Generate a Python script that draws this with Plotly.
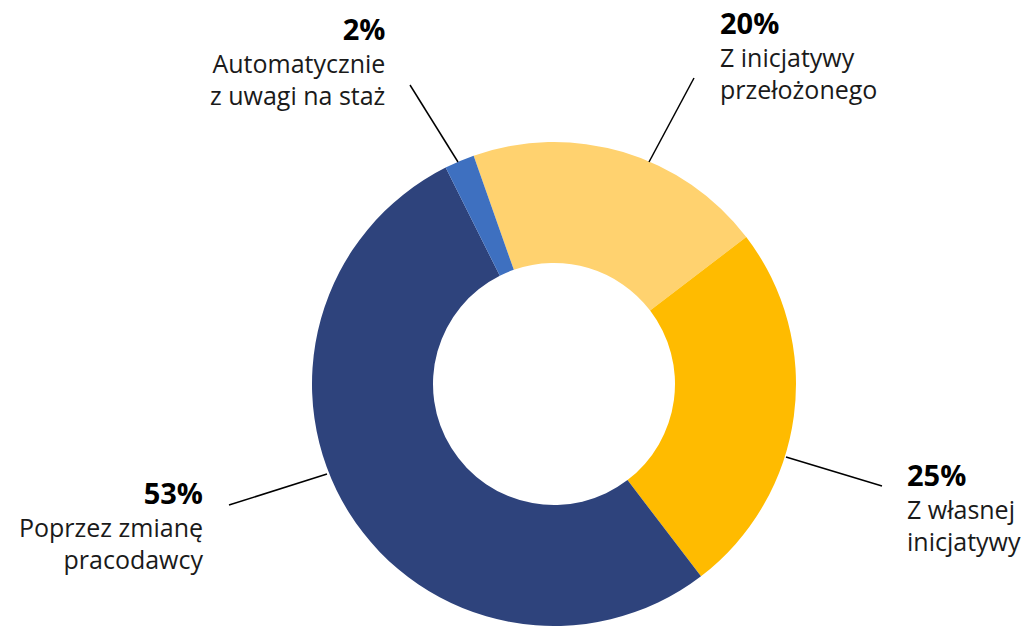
import plotly.graph_objects as go

W, H = 1029, 626

# Data
categories = ["Z inicjatywy przełożonego", "Z własnej inicjatywy",
              "Poprzez zmianę pracodawcy", "Automatycznie z uwagi na staż"]
values = [20, 25, 53, 2]
pct_labels = ["20%", "25%", "53%", "2%"]
label_lines = [["Z inicjatywy", "przełożonego"],
               ["Z własnej", "inicjatywy"],
               ["Poprzez zmianę", "pracodawcy"],
               ["Automatycznie", "z uwagi na staż"]]
colors = ["#FFD26F", "#FFBB00", "#2E437C", "#3E70C0"]

FONT = "'Open Sans', Lato, sans-serif"

def px(x):
    return x / W

def py(y):
    return 1 - y / H

cx, cy, r = 554, 385, 243

fig = go.Figure(go.Pie(
    labels=categories, values=values, hole=0.5, sort=False,
    direction="clockwise", rotation=-19.4,
    marker=dict(colors=colors, line=dict(width=0)),
    textinfo="none", hoverinfo="label+percent", showlegend=False,
    domain=dict(x=[px(cx - r), px(cx + r)], y=[max(0, py(cy + r)), py(cy - r)]),
))

# label layout: (x anchor px, top y px, align)
label_pos = [(718, 1, "left"), (905, 453, "left"), (205, 471, "right"), (387, 7, "right")]
leaders = [((694, 78), (649, 162)), ((786, 457), (882, 486)),
           ((327, 474), (229, 505)), ((410, 85), (458, 162))]

annotations = []
for (x, y, al), pct, lines in zip(label_pos, pct_labels, label_lines):
    txt = (f"<span style='font-size:29px;color:#000'><b>{pct}</b></span><br>"
           + "<br>".join(lines))
    annotations.append(dict(
        x=px(x), y=py(y), xref="paper", yref="paper",
        xanchor=al, yanchor="top", align=al, showarrow=False,
        text=txt, font=dict(family=FONT, size=25, color="#1a1a1a")))

shapes = []
for (a, b) in leaders:
    shapes.append(dict(type="line", xref="paper", yref="paper",
                       x0=px(a[0]), y0=py(a[1]), x1=px(b[0]), y1=py(b[1]),
                       line=dict(color="#000000", width=1.5)))

fig.update_layout(
    width=W, height=H, margin=dict(l=0, r=0, t=0, b=0),
    paper_bgcolor="white", plot_bgcolor="white",
    annotations=annotations, shapes=shapes,
)

fig.write_html("out.html")
